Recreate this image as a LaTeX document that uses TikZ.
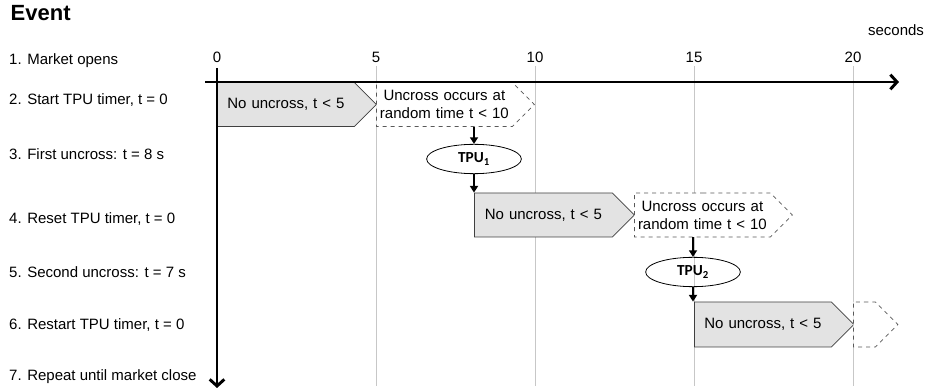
\documentclass[tikz,border=0pt]{standalone}
\usepackage{fontspec}
\setmainfont{Liberation Sans}
\newfontfamily\tpufont{Carlito}
\usetikzlibrary{arrows.meta,shapes.symbols,shapes.geometric}

\tikzset{
	axis/.style={line width=2.2pt, -{Straight Barb[length=5pt,width=11pt]}},
	gridline/.style={black!22, line width=0.6pt},
	nobox/.style={signal, signal to=east, signal pointer angle=90, draw=black!75, fill=black!11,
		line width=0.6pt, minimum height=33pt, inner sep=0pt, align=center, anchor=west},
	maybebox/.style={nobox, fill=white, draw=black!65, dashed},
	tpu/.style={ellipse, draw=black, line width=0.6pt, minimum width=71pt, minimum height=22pt,
		inner sep=0pt, font=\tpufont\bfseries\fontsize{11.5}{13}\selectfont},
	flow/.style={line width=1.5pt, -{Triangle[length=5pt,width=6pt]}}
}

\begin{document}
\begin{tikzpicture}[x=0.75pt, y=-0.75pt, font=\fontsize{11.25}{13.5}\selectfont]
	\useasboundingbox (0,0) rectangle (926,392);

	% Title
	\node[anchor=west, font=\bfseries\fontsize{16.5}{20}\selectfont] (title) at (6,13) {Event};

	% Events
	\node[anchor=west] (ev1) at (4.5,61) {1. Market opens};
	\node[anchor=west] (ev2) at (4.5,100) {2. Start TPU timer, t = 0};
	\node[anchor=west] (ev3) at (4.5,154) {3. First uncross: t = 8 s};
	\node[anchor=west] (ev4) at (4.5,219) {4. Reset TPU timer, t = 0};
	\node[anchor=west] (ev5) at (4.5,272) {5. Second uncross: t = 7 s};
	\node[anchor=west] (ev6) at (4.5,325) {6. Restart TPU timer, t = 0};
	\node[anchor=west] (ev7) at (4.5,377) {7. Repeat until market close};

	% Grid lines
	\foreach \s in {5,10,15,20}
		\draw[gridline] ({217+31.8*\s},66) -- ({217+31.8*\s},386);

	% First timer
	\node[nobox, text width=102.75pt] (nouA) at (217,104.5) {No uncross, t < 5};
	\node[maybebox, text width=102pt] (uncA) at (376,104.5) {Uncross occurs at\\random time t < 10};
	\node[tpu] (tpuA) at (474,159) {TPU\textsubscript{1}};

	% Second timer
	\node[nobox, text width=103.5pt] (nouB) at (474,215) {No uncross, t < 5};
	\node[maybebox, text width=102pt] (uncB) at (634,215) {Uncross occurs at\\random time t < 10};
	\node[tpu] (tpuB) at (693,272) {TPU\textsubscript{2}};

	% Third timer
	\node[nobox, text width=102.75pt, minimum height=33.75pt] (nouC) at (694,324.5) {No uncross, t < 5};
	\node[maybebox, text width=16.5pt, minimum height=33.75pt] (uncC) at (853,324.5) {};

	% Draw axes
	%X
	\coordinate (xfrom) at (205,82);
	\coordinate (xto) at (899,82);
	\draw[axis] (xfrom) -- (xto);
	%Y
	\coordinate (yfrom) at (217,68);
	\coordinate (yto) at (217,388);
	\draw[axis] (yfrom) -- (yto);

	% Axis labels
	\foreach \s in {0,5,10,15,20}
		\node (tick\s) at ({217+31.8*\s},57) {\s};
	\node (unit) at (896,30) {seconds};

	% Uncross arrows
	\draw[flow] (uncA.south -| tpuA.north) -- (tpuA.north);
	\draw[flow] (tpuA.south) -- (tpuA.south |- nouB.north);
	\draw[flow] (uncB.south -| tpuB.north) -- (tpuB.north);
	\draw[flow] (tpuB.south) -- (tpuB.south |- nouC.north);

\end{tikzpicture}
\end{document}
